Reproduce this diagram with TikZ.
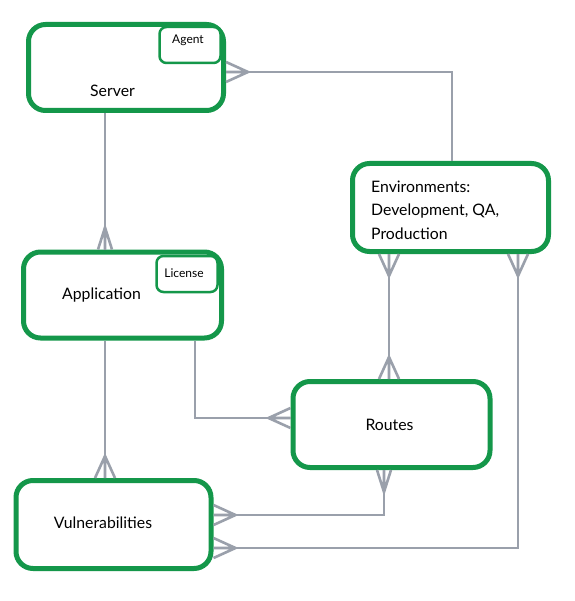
\documentclass[tikz,border=0pt]{standalone}
\usepackage{fontspec}
\setmainfont{Lato}
\usetikzlibrary{calc}
\definecolor{boxgreen}{HTML}{14974A}
\definecolor{conngray}{HTML}{9AA0AB}
\begin{document}
\begin{tikzpicture}[x=1pt,y=-1pt,
  mainbox/.style={draw=boxgreen, line width=5pt, rounded corners=17pt, fill=white, inner sep=0pt},
  subbox/.style={draw=boxgreen, line width=2.5pt, rounded corners=7pt, fill=white, minimum width=61pt, minimum height=36pt, inner sep=0pt},
  maintext/.style={font=\fontsize{15.8}{23.5}\selectfont, inner sep=0pt, text=black},
  subtext/.style={font=\fontsize{12}{14}\selectfont, inner sep=0pt, text=black},
  conn/.style={draw=conngray, line width=2.6pt},
  crow/.pic={\draw[conn] (0,-10) -- (22,0) -- (0,10) (0,0) -- (22,0);},
  crowthin/.pic={\draw[conn] (0,-7) -- (22,0) -- (0,7) (0,0) -- (22,0);}
]
\useasboundingbox[fill=white] (0,0) rectangle (574,601);

% boxes
\node[mainbox, minimum width=195pt, minimum height=86pt] (server) at (126,67.5) {};
\node[subbox] (agent) at (190,45) {};
\node[subtext] (agenttext) at (188,40) {Agent};
\node[maintext] (servertext) at (112.5,91) {Server};

\node[mainbox, minimum width=198pt, minimum height=86pt] (application) at (122.5,295) {};
\node[subbox] (license) at (187,274) {};
\node[subtext] (licensetext) at (184,273) {License};
\node[maintext] (apptext) at (101.5,295) {Application};

\node[mainbox, minimum width=196pt, minimum height=88pt] (environments) at (450.5,207.5) {};
\node[maintext, anchor=west, align=left] (envtext) at (371,210) {Environments:\\Development, QA,\\Production};

\node[mainbox, minimum width=197pt, minimum height=86pt] (routes) at (391.5,424.5) {};
\node[maintext] (routestext) at (389.5,425) {Routes};

\node[mainbox, minimum width=195pt, minimum height=88pt] (vuln) at (113.5,524.5) {};
\node[maintext] (vulntext) at (103,523) {Vulnerabilities};

% helper coordinates
\coordinate (x105) at (105,0);
\coordinate (x195) at (195,0);
\coordinate (x384) at (384,0);
\coordinate (x389) at (389,0);
\coordinate (x452) at (452,0);
\coordinate (x518) at (518,0);
\coordinate (y72) at (0,72);
\coordinate (y418) at (0,418);
\coordinate (y515) at (0,515);
\coordinate (y548) at (0,548);

% Server -- Application
\draw[conn] (server.south -| x105) -- (application.north -| x105);
\pic[rotate=90] at (application.north -| x105) {crowthin};

% Application -- Vulnerabilities
\draw[conn] (application.south -| x105) -- (vuln.north -| x105);
\pic[rotate=90] at (vuln.north -| x105) {crow};

% Application -- Routes
\draw[conn] (application.south -| x195) |- (routes.west |- y418);
\pic[rotate=180] at (routes.west |- y418) {crow};

% Environments -- Server
\draw[conn] (environments.north -| x452) |- (server.east |- y72);
\pic at (server.east |- y72) {crow};

% Environments -- Routes
\draw[conn] (environments.south -| x389) -- (routes.north -| x389);
\pic[rotate=-90] at (environments.south -| x389) {crow};
\pic[rotate=90] at (routes.north -| x389) {crow};

% Routes -- Vulnerabilities
\draw[conn] (routes.south -| x384) |- (vuln.east |- y515);
\pic[rotate=-90] at (routes.south -| x384) {crowthin};
\pic at (vuln.east |- y515) {crow};

% Environments -- Vulnerabilities
\draw[conn] (environments.south -| x518) |- (vuln.east |- y548);
\pic[rotate=-90] at (environments.south -| x518) {crow};
\pic at (vuln.east |- y548) {crow};
\end{tikzpicture}
\end{document}
